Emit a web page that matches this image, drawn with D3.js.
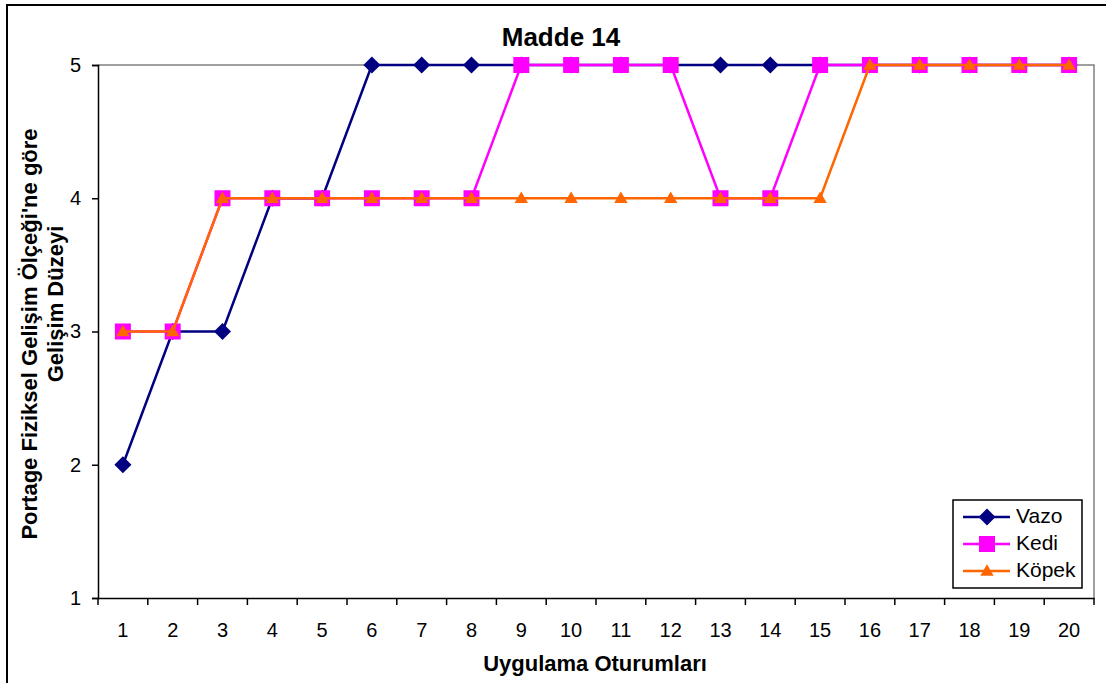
<!DOCTYPE html>
<html>
<head>
<meta charset="utf-8">
<script src="https://cdn.jsdelivr.net/npm/d3@7"></script>
<style>
  body { margin: 0; background: #fff; }
  svg { display: block; }
</style>
</head>
<body>
<div id="vis"></div>
<script>
const sessions = d3.range(1, 21).map(String);
const yTicks = [1, 2, 3, 4, 5];
const vazo  = [2, 3, 3, 4, 4, 5, 5, 5, 5, 5, 5, 5, 5, 5, 5, 5, 5, 5, 5, 5];
const kedi  = [3, 3, 4, 4, 4, 4, 4, 4, 5, 5, 5, 5, 4, 4, 5, 5, 5, 5, 5, 5];
const kopek = [3, 3, 4, 4, 4, 4, 4, 4, 4, 4, 4, 4, 4, 4, 4, 5, 5, 5, 5, 5];
const seriesNames = ['Vazo', 'Kedi', 'Köpek'];
const seriesColors = ['#000080', '#ff00ff', '#ff6600'];

const width = 1106;
const height = 683;
const font = '"Liberation Sans", Arial, sans-serif';
const plot = {left: 98, right: 1094, top: 65, bottom: 598};

const svg = d3.select('#vis')
    .append('svg')
    .attr('width', width)
    .attr('height', height);

// outer chart border
svg.append('rect')
    .attr('x', 7)
    .attr('y', 5)
    .attr('width', 1110)
    .attr('height', 700)
    .attr('fill', 'none')
    .attr('stroke', 'black')
    .attr('stroke-width', 2);

const x = d3.scaleBand()
    .domain(sessions)
    .range([plot.left, plot.right]);

const y = d3.scaleLinear()
    .domain([1, 5])
    .range([plot.bottom, plot.top]);

// plot area frame (gray top / right)
svg.append('path')
    .attr('d', `M${plot.left},${plot.top}H${plot.right}V${plot.bottom}`)
    .attr('fill', 'none')
    .attr('stroke', '#808080')
    .attr('stroke-width', 1.5);

// y axis
const yAxis = svg.append('g')
    .attr('transform', `translate(${plot.left},0)`)
    .call(d3.axisLeft(y).tickValues(yTicks).tickFormat(d3.format('d')).tickSize(6).tickPadding(11));
yAxis.select('.domain').attr('stroke', 'black').attr('stroke-width', 1.5);
yAxis.selectAll('.tick line').attr('stroke', 'black').attr('stroke-width', 1.5);
yAxis.selectAll('.tick text')
    .attr('font-family', font)
    .attr('font-size', '20px')
    .attr('fill', 'black');

// x axis, ticks between categories
const xAxis = svg.append('g')
    .attr('transform', `translate(0,${plot.bottom})`)
    .call(d3.axisBottom(x).tickSize(0));
xAxis.select('.domain').attr('stroke', 'black').attr('stroke-width', 1.5);
xAxis.selectAll('.tick text')
    .attr('y', 32)
    .attr('dy', '0.35em')
    .attr('font-family', font)
    .attr('font-size', '20px')
    .attr('fill', 'black');
xAxis.selectAll('.sep')
    .data(d3.range(0, sessions.length + 1))
    .enter()
    .append('line')
    .attr('x1', i => plot.left + i * x.step())
    .attr('x2', i => plot.left + i * x.step())
    .attr('y1', 0)
    .attr('y2', 7)
    .attr('stroke', 'black')
    .attr('stroke-width', 1.5);

// title + axis titles
svg.append('text')
    .attr('x', 561)
    .attr('y', 39)
    .attr('font-family', font)
    .attr('font-size', '26px')
    .attr('font-weight', 'bold')
    .attr('text-anchor', 'middle')
    .attr('dominant-baseline', 'middle')
    .text('Madde 14');

svg.append('text')
    .attr('x', 595)
    .attr('y', 665)
    .attr('font-family', font)
    .attr('font-size', '22px')
    .attr('font-weight', 'bold')
    .attr('text-anchor', 'middle')
    .attr('dominant-baseline', 'middle')
    .text('Uygulama Oturumları');

svg.append('text')
    .attr('transform', 'translate(31,334) rotate(-90)')
    .attr('font-family', font)
    .attr('font-size', '22px')
    .attr('font-weight', 'bold')
    .attr('text-anchor', 'middle')
    .attr('dominant-baseline', 'middle')
    .text("Portage Fiziksel Gelişim Ölçeği'ne göre");

svg.append('text')
    .attr('transform', 'translate(57,304) rotate(-90)')
    .attr('font-family', font)
    .attr('font-size', '22px')
    .attr('font-weight', 'bold')
    .attr('text-anchor', 'middle')
    .attr('dominant-baseline', 'middle')
    .text('Gelişim Düzeyi');

// Excel style diamond: a square turned 45 degrees
const excelDiamond = {
    draw(ctx, size) {
        const r = Math.sqrt(size) / 2;
        ctx.moveTo(0, -r);
        ctx.lineTo(r, 0);
        ctx.lineTo(0, r);
        ctx.lineTo(-r, 0);
        ctx.closePath();
    }
};

// series
const symbols = [excelDiamond, d3.symbolSquare, d3.symbolTriangle];
const symbolSizes = [290, 256, 78];
const allSeries = [vazo, kedi, kopek];

const line = d3.line()
    .x((d, i) => x(sessions[i]) + x.bandwidth() / 2)
    .y(d => y(d));

allSeries.forEach((values, s) => {
    const g = svg.append('g');
    g.append('path')
        .datum(values)
        .attr('d', line)
        .attr('fill', 'none')
        .attr('stroke', seriesColors[s])
        .attr('stroke-width', 2.5);
    g.selectAll('path.marker')
        .data(values)
        .enter()
        .append('path')
        .attr('class', 'marker')
        .attr('d', d3.symbol().type(symbols[s]).size(symbolSizes[s]))
        .attr('transform', (d, i) => `translate(${x(sessions[i]) + x.bandwidth() / 2},${y(d) + (s === 2 ? 1 : 0)})`)
        .attr('fill', seriesColors[s]);
});

// legend
const legend = svg.append('g').attr('transform', 'translate(953,500)');
legend.append('rect')
    .attr('width', 129)
    .attr('height', 88)
    .attr('fill', 'white')
    .attr('stroke', 'black')
    .attr('stroke-width', 1.5);

seriesNames.forEach((name, s) => {
    const ly = 17 + s * 27;
    legend.append('line')
        .attr('x1', 10)
        .attr('x2', 57)
        .attr('y1', ly)
        .attr('y2', ly)
        .attr('stroke', seriesColors[s])
        .attr('stroke-width', 2.5);
    legend.append('path')
        .attr('d', d3.symbol().type(symbols[s]).size(symbolSizes[s]))
        .attr('transform', `translate(34,${ly + (s === 2 ? 1 : 0)})`)
        .attr('fill', seriesColors[s]);
    legend.append('text')
        .attr('x', 63)
        .attr('y', ly)
        .attr('font-family', font)
        .attr('font-size', '21px')
        .attr('dominant-baseline', 'middle')
        .text(name);
});
</script>
</body>
</html>
